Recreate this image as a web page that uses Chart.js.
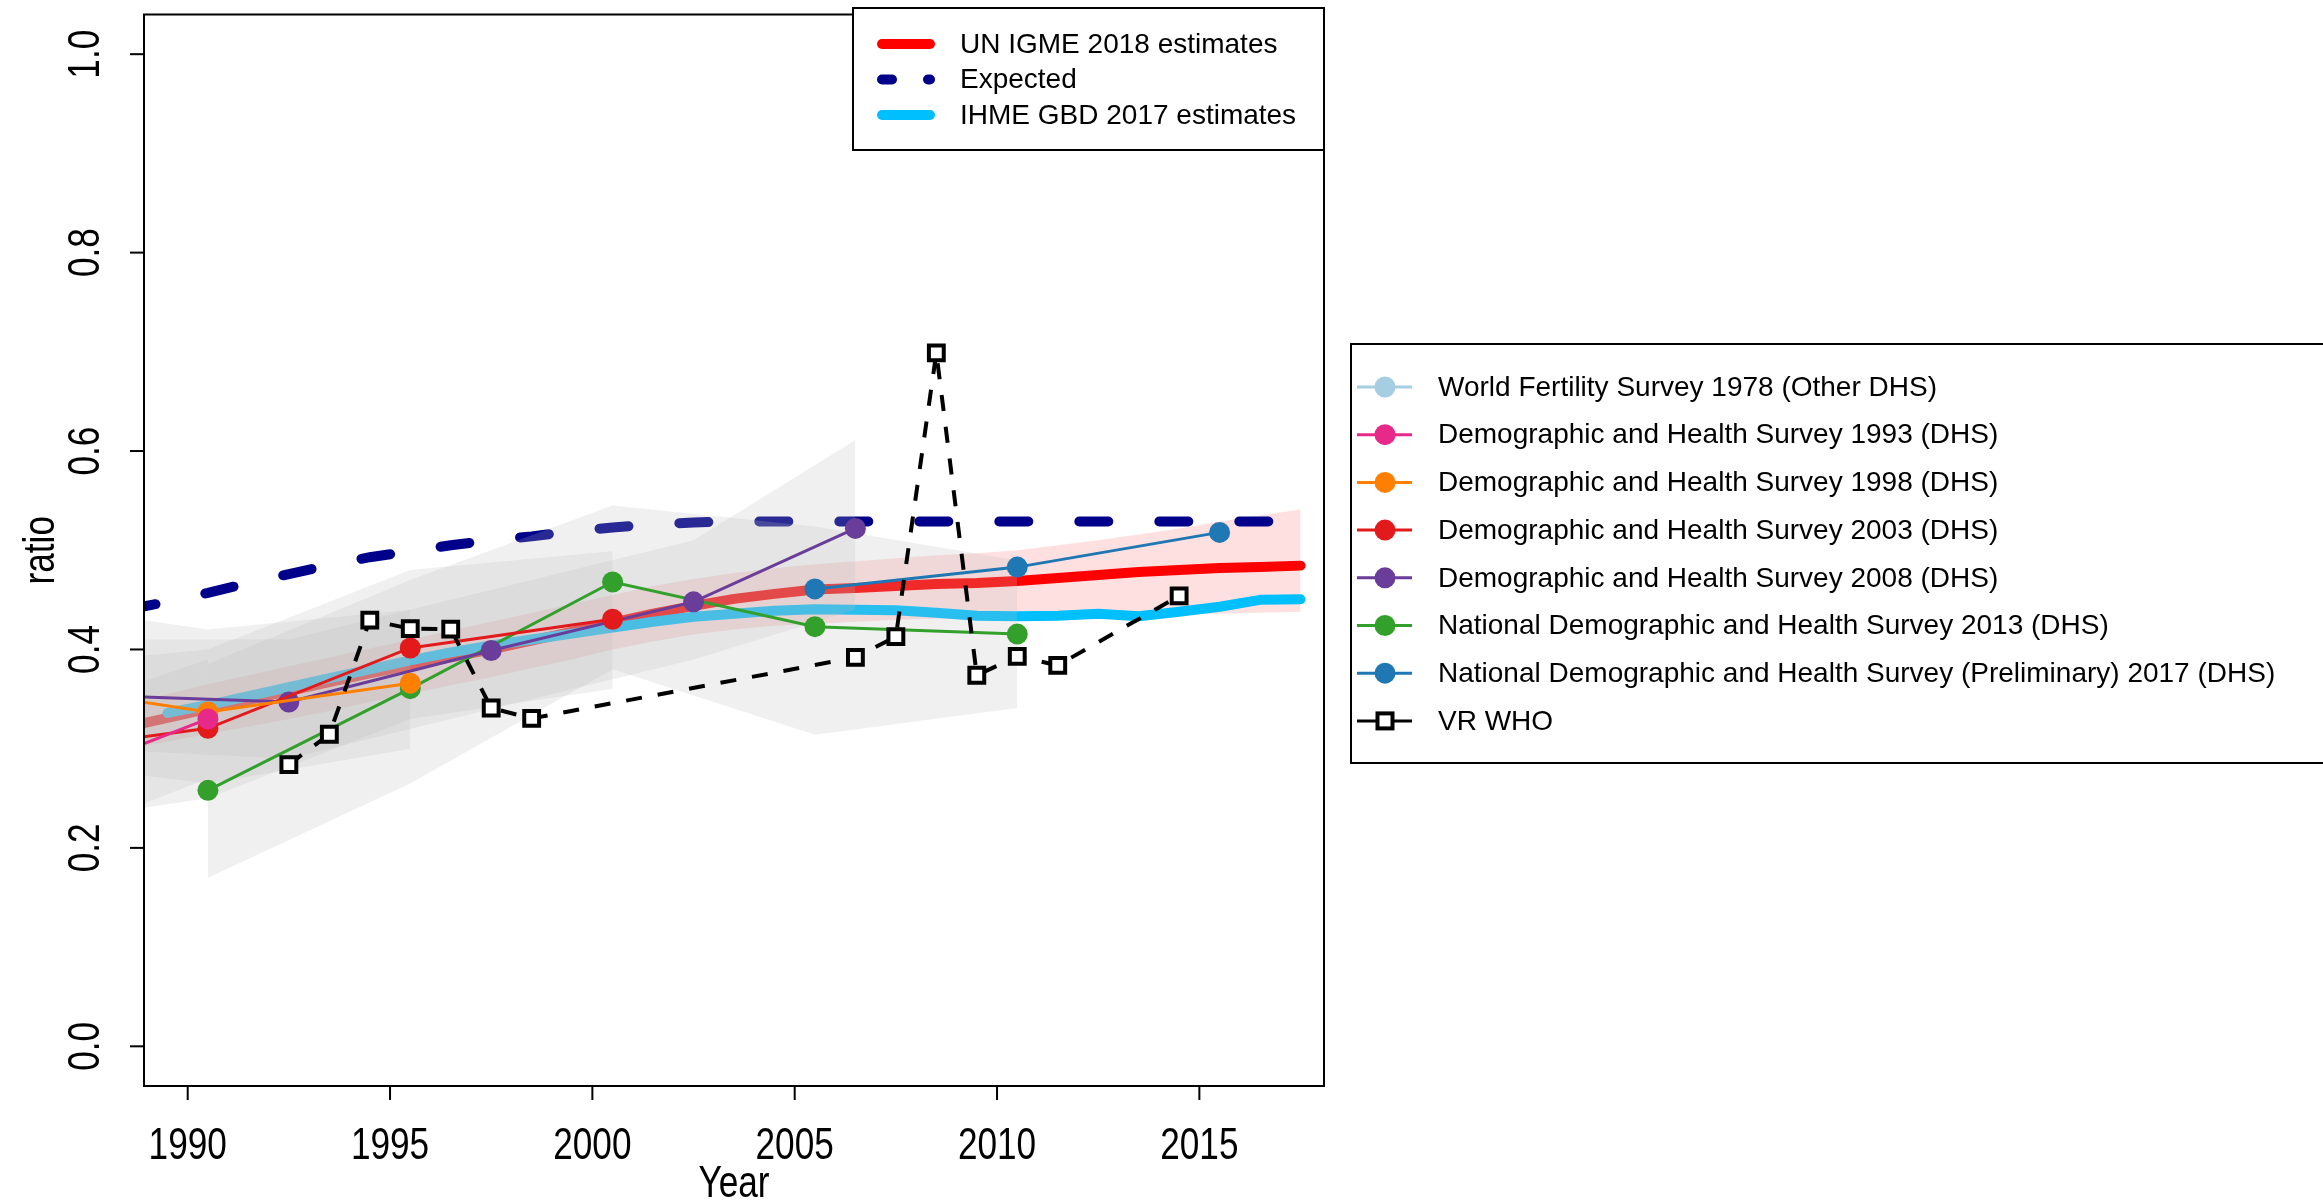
<!DOCTYPE html>
<html>
<head>
<meta charset="utf-8">
<script src="https://cdn.jsdelivr.net/npm/chart.js@4.4.1/dist/chart.umd.min.js"></script>
<style>
  html, body { margin: 0; padding: 0; background: #fff; }
  #wrap { width: 2323px; height: 1201px; }
</style>
</head>
<body>
<div id="wrap"><canvas id="chart" width="2323" height="1201"></canvas></div>
<script>
// axis ticks
const xTicks = [1990, 1995, 2000, 2005, 2010, 2015];
const yTicks = [0, 0.2, 0.4, 0.6, 0.8, 1.0];

// UN IGME estimates, its band and the expected ratio (mid-year)
const igmeYears = [1988.5, 1989.5, 1990.5, 1991.5, 1992.5, 1993.5, 1994.5, 1995.5, 1996.5, 1997.5,
  1998.5, 1999.5, 2000.5, 2001.5, 2002.5, 2003.5, 2004.5, 2005.5, 2006.5, 2007.5,
  2008.5, 2009.5, 2010.5, 2011.5, 2012.5, 2013.5, 2014.5, 2015.5, 2016.5, 2017.5];
const igme = [0.322, 0.331, 0.340, 0.349, 0.358, 0.367, 0.376, 0.384, 0.392, 0.400,
  0.409, 0.418, 0.427, 0.436, 0.444, 0.451, 0.456, 0.4605, 0.462, 0.464,
  0.466, 0.467, 0.469, 0.472, 0.475, 0.478, 0.480, 0.482, 0.483, 0.4845];
const igmeLower = [0.300, 0.307, 0.315, 0.322, 0.330, 0.338, 0.347, 0.355, 0.364, 0.372,
  0.381, 0.390, 0.400, 0.408, 0.415, 0.420, 0.424, 0.426, 0.428, 0.430,
  0.431, 0.431, 0.432, 0.432, 0.433, 0.434, 0.435, 0.436, 0.437, 0.438];
const igmeUpper = [0.345, 0.355, 0.365, 0.374, 0.383, 0.392, 0.401, 0.410, 0.419, 0.428,
  0.437, 0.446, 0.455, 0.464, 0.471, 0.477, 0.482, 0.486, 0.489, 0.492,
  0.495, 0.497, 0.500, 0.505, 0.510, 0.516, 0.522, 0.529, 0.535, 0.541];
const expected = [0.440, 0.448, 0.457, 0.467, 0.476, 0.485, 0.493, 0.499, 0.505, 0.510,
  0.514, 0.519, 0.523, 0.526, 0.528, 0.529, 0.529, 0.529, 0.529, 0.529,
  0.529, 0.529, 0.529, 0.529, 0.529, 0.529, 0.529, 0.529, 0.529, 0.529];

// IHME GBD 2017
const ihmeYears = [1989.5, 1990.5, 1991.5, 1992.5, 1993.5, 1994.5, 1995.5, 1996.5, 1997.5,
  1998.5, 1999.5, 2000.5, 2001.5, 2002.5, 2003.5, 2004.5, 2005.5, 2006.5, 2007.5,
  2008.5, 2009.5, 2010.5, 2011.5, 2012.5, 2013.5, 2014.5, 2015.5, 2016.5, 2017.5];
const ihme = [0.336, 0.344, 0.353, 0.362, 0.371, 0.380, 0.389, 0.397, 0.404,
  0.410, 0.416, 0.422, 0.428, 0.433, 0.436, 0.439, 0.4405, 0.440, 0.4395,
  0.437, 0.434, 0.4335, 0.434, 0.436, 0.4335, 0.438, 0.443, 0.450, 0.4505];

// surveys
const surveyNames = [
  'World Fertility Survey 1978 (Other DHS)',
  'Demographic and Health Survey 1993 (DHS)',
  'Demographic and Health Survey 1998 (DHS)',
  'Demographic and Health Survey 2003 (DHS)',
  'Demographic and Health Survey 2008 (DHS)',
  'National Demographic and Health Survey 2013 (DHS)',
  'National Demographic and Health Survey (Preliminary) 2017 (DHS)'
];
const surveyColors = ['#A6CEE3', '#E7298A', '#FF7F00', '#E31A1C', '#6A3D9A', '#33A02C', '#1F78B4'];

const wfs1978Years = [];
const wfs1978 = [];

const dhs1993Years = [1985.5, 1990.5];
const dhs1993 = [0.251, 0.330];
const dhs1993Lo = [0.19, 0.27];
const dhs1993Hi = [0.32, 0.39];

const dhs1998Years = [1985.5, 1990.5, 1995.5];
const dhs1998 = [0.368, 0.337, 0.366];
const dhs1998Lo = [0.29, 0.265, 0.30];
const dhs1998Hi = [0.45, 0.42, 0.44];

const dhs2003Years = [1985.5, 1990.5, 1995.5, 2000.5];
const dhs2003 = [0.294, 0.3205, 0.4015, 0.4305];
const dhs2003Lo = [0.22, 0.25, 0.33, 0.3605];
const dhs2003Hi = [0.38, 0.40, 0.48, 0.499];

const dhs2008Years = [1987.5, 1992.5, 1997.5, 2002.5, 2006.5];
const dhs2008 = [0.354, 0.347, 0.399, 0.448, 0.522];
const dhs2008Lo = [0.30, 0.29, 0.34, 0.39, 0.44];
const dhs2008Hi = [0.41, 0.41, 0.46, 0.51, 0.611];

const ndhs2013Years = [1990.5, 1995.5, 2000.5, 2005.5, 2010.5];
const ndhs2013 = [0.258, 0.3605, 0.468, 0.423, 0.4155];
const ndhs2013Lo = [0.17, 0.265, 0.38, 0.314, 0.341];
const ndhs2013Hi = [0.385, 0.47, 0.545, 0.524, 0.49];

const ndhs2017Years = [2005.5, 2010.5, 2015.5];
const ndhs2017 = [0.461, 0.483, 0.518];

// vital registration
const vrYears = [1992.5, 1993.5, 1994.5, 1995.5, 1996.5, 1997.5, 1998.5,
  2006.5, 2007.5, 2008.5, 2009.5, 2010.5, 2011.5, 2014.5];
const vrWho = [0.284, 0.3145, 0.4295, 0.421, 0.4205, 0.341, 0.3305,
  0.392, 0.413, 0.699, 0.374, 0.393, 0.384, 0.454];

const FONT = '"Liberation Sans", Arial, Helvetica, sans-serif';
const pts = (xs, ys) => xs.map((x, i) => ({ x: x, y: ys[i] }));

const surveys = [
  { years: wfs1978Years, vals: wfs1978 },
  { years: dhs1993Years, vals: dhs1993, lo: dhs1993Lo, hi: dhs1993Hi },
  { years: dhs1998Years, vals: dhs1998, lo: dhs1998Lo, hi: dhs1998Hi },
  { years: dhs2003Years, vals: dhs2003, lo: dhs2003Lo, hi: dhs2003Hi },
  { years: dhs2008Years, vals: dhs2008, lo: dhs2008Lo, hi: dhs2008Hi },
  { years: ndhs2013Years, vals: ndhs2013, lo: ndhs2013Lo, hi: ndhs2013Hi },
  { years: ndhs2017Years, vals: ndhs2017 }
];

const datasets = [];

// pink uncertainty band of the IGME estimates
datasets.push({ label: 'igme lower', data: pts(igmeYears, igmeLower), borderWidth: 0,
  borderColor: 'transparent', pointRadius: 0, fill: false, order: 100 });
datasets.push({ label: 'igme upper', data: pts(igmeYears, igmeUpper), borderWidth: 0,
  borderColor: 'transparent', pointRadius: 0, fill: '-1', backgroundColor: 'rgba(255,0,0,0.12)', order: 100 });

datasets.push({ label: 'UN IGME 2018 estimates', data: pts(igmeYears, igme), borderColor: '#FF0000',
  borderWidth: 10, borderCapStyle: 'round', borderJoinStyle: 'round', pointRadius: 0, order: 90 });
datasets.push({ label: 'Expected', data: pts(igmeYears, expected), borderColor: '#00008B',
  borderWidth: 10, borderDash: [29, 51], borderCapStyle: 'round', pointRadius: 0, order: 85 });
datasets.push({ label: 'IHME GBD 2017 estimates', data: pts(ihmeYears, ihme), borderColor: '#00BFFF',
  borderWidth: 10, borderCapStyle: 'round', borderJoinStyle: 'round', pointRadius: 0, order: 80 });

// grey uncertainty polygons of the surveys
surveys.forEach(s => {
  if (!s.lo) return;
  datasets.push({ label: 'lo', data: pts(s.years, s.lo), borderWidth: 0, borderColor: 'transparent',
    pointRadius: 0, fill: false, order: 50 });
  datasets.push({ label: 'hi', data: pts(s.years, s.hi), borderWidth: 0, borderColor: 'transparent',
    pointRadius: 0, fill: '-1', backgroundColor: 'rgba(185,185,185,0.22)', order: 50 });
});

// survey series (earlier surveys end up on top)
surveys.forEach((s, i) => {
  datasets.push({
    label: surveyNames[i], data: pts(s.years, s.vals),
    borderColor: surveyColors[i], borderWidth: 3,
    pointRadius: 10.5, pointBackgroundColor: surveyColors[i], pointBorderWidth: 0,
    order: 10 + i
  });
});

datasets.push({
  label: 'VR WHO', data: pts(vrYears, vrWho),
  borderColor: '#000', borderWidth: 4, borderDash: [16, 16],
  pointStyle: 'rect', pointRadius: 10.5, pointBorderWidth: 4,
  pointBorderColor: '#000', pointBackgroundColor: '#fff', order: 1
});

datasets.forEach(d => { d.clip = 0; });

// axis text is condensed along its reading direction, like the original
function axisText(ctx, text, x, y, rotate) {
  ctx.save();
  ctx.translate(x, y);
  if (rotate) ctx.rotate(-Math.PI / 2);
  ctx.scale(0.8, 1);
  ctx.fillText(text, 0, 0);
  ctx.restore();
}

const framePlugin = {
  id: 'frame',
  afterDraw(chart) {
    const { ctx, chartArea: a } = chart;
    const x = chart.scales.x, y = chart.scales.y;
    ctx.save();
    ctx.strokeStyle = '#000';
    ctx.fillStyle = '#000';
    ctx.lineWidth = 2;
    ctx.strokeRect(a.left, a.top, a.right - a.left, a.bottom - a.top);

    // x axis
    ctx.font = '44px ' + FONT;
    ctx.textAlign = 'center';
    ctx.textBaseline = 'alphabetic';
    xTicks.forEach(v => {
      const px = x.getPixelForValue(v);
      ctx.beginPath(); ctx.moveTo(px, a.bottom); ctx.lineTo(px, a.bottom + 14); ctx.stroke();
      axisText(ctx, String(v), px, a.bottom + 73, false);
    });
    axisText(ctx, 'Year', (a.left + a.right) / 2, 1197, false);

    // y axis, labels rotated like R
    yTicks.forEach(v => {
      const py = y.getPixelForValue(v);
      ctx.beginPath(); ctx.moveTo(a.left - 14, py); ctx.lineTo(a.left, py); ctx.stroke();
      axisText(ctx, v.toFixed(1), 99, py, true);
    });
    axisText(ctx, 'ratio', 54, (a.top + a.bottom) / 2, true);

    // top legend (inside plot)
    ctx.fillStyle = '#fff';
    ctx.fillRect(853, 8, 471, 142);
    ctx.strokeRect(853, 8, 471, 142);
    ctx.font = '28px ' + FONT;
    ctx.textAlign = 'left';
    ctx.textBaseline = 'middle';
    ctx.fillStyle = '#000';
    ctx.lineCap = 'round';
    const topRows = [
      { label: 'UN IGME 2018 estimates', color: '#FF0000', dash: [] },
      { label: 'Expected', color: '#00008B', dash: [10, 36] },
      { label: 'IHME GBD 2017 estimates', color: '#00BFFF', dash: [] }
    ];
    topRows.forEach((r, i) => {
      const ry = 44 + i * 35.5;
      ctx.strokeStyle = r.color;
      ctx.lineWidth = 10;
      ctx.setLineDash(r.dash);
      ctx.beginPath(); ctx.moveTo(882, ry); ctx.lineTo(930, ry); ctx.stroke();
      ctx.setLineDash([]);
      ctx.fillText(r.label, 960, ry + 1);
    });

    // right legend (outside plot), its right side runs off the canvas
    ctx.lineCap = 'butt';
    ctx.strokeStyle = '#000';
    ctx.lineWidth = 2;
    ctx.strokeRect(1351, 344, 990, 419);
    const names = surveyNames.concat(['VR WHO']);
    names.forEach((name, i) => {
      const ry = 387 + i * 47.7;
      const col = i < surveyColors.length ? surveyColors[i] : '#000';
      ctx.strokeStyle = col;
      ctx.lineWidth = 3;
      ctx.beginPath(); ctx.moveTo(1357, ry); ctx.lineTo(1412, ry); ctx.stroke();
      if (i < surveyColors.length) {
        ctx.fillStyle = col;
        ctx.beginPath(); ctx.arc(1385, ry, 10.5, 0, Math.PI * 2); ctx.fill();
      } else {
        ctx.fillStyle = '#fff';
        ctx.lineWidth = 4;
        ctx.fillRect(1377.5, ry - 7.5, 15, 15);
        ctx.strokeRect(1377.5, ry - 7.5, 15, 15);
      }
      ctx.fillStyle = '#000';
      ctx.fillText(name, 1438, ry + 1);
    });
    ctx.restore();
  }
};

new Chart(document.getElementById('chart'), {
  type: 'line',
  data: { datasets: datasets },
  options: {
    responsive: false,
    animation: false,
    devicePixelRatio: 1,
    layout: { padding: { top: 9, right: 999, left: 0, bottom: 0 } },
    plugins: { legend: { display: false }, tooltip: { enabled: false } },
    elements: { line: { tension: 0 } },
    scales: {
      x: {
        type: 'linear', min: 1988.92, max: 2018.08,
        grid: { display: false }, border: { display: false }, ticks: { display: false },
        afterFit: s => { s.height = 115; }
      },
      y: {
        type: 'linear', min: -0.04, max: 1.04,
        grid: { display: false }, border: { display: false }, ticks: { display: false },
        afterFit: s => { s.width = 144; }
      }
    }
  },
  plugins: [framePlugin]
});
</script>
</body>
</html>
